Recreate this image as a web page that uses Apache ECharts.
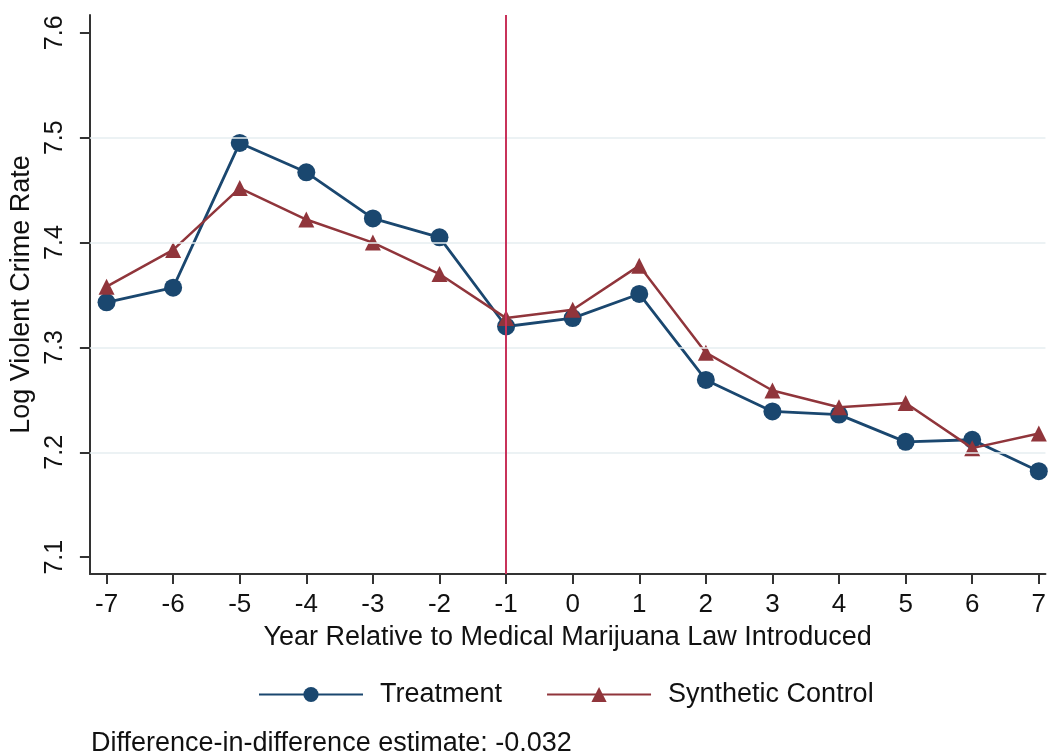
<!DOCTYPE html>
<html>
<head>
<meta charset="utf-8">
<script src="https://cdn.jsdelivr.net/npm/echarts@6/dist/echarts.min.js"></script>
<style>
  html, body { margin: 0; padding: 0; background: #fff; }
  #chart { width: 1049px; height: 756px; }
</style>
</head>
<body>
<div id="chart"></div>
<script>
// years relative to law
var years = [-7, -6, -5, -4, -3, -2, -1, 0, 1, 2, 3, 4, 5, 6, 7]
var treatment = [7.343, 7.357, 7.495, 7.467, 7.423, 7.405, 7.320, 7.328, 7.351, 7.269, 7.239, 7.236, 7.210, 7.212, 7.182]
var synthetic = [7.358, 7.393, 7.452, 7.422, 7.400, 7.370, 7.328, 7.336, 7.378, 7.295, 7.259, 7.243, 7.247, 7.204, 7.218]
var xTicks = [-7, -6, -5, -4, -3, -2, -1, 0, 1, 2, 3, 4, 5, 6, 7]
var yTicks = [7.1, 7.2, 7.3, 7.4, 7.5, 7.6]
var gridValues = [7.2, 7.3, 7.4, 7.5]
var lawYear = -1
var note = 'Difference-in-difference estimate: -0.032'

var font = '"Liberation Sans", Arial, Helvetica, sans-serif'
var navy = '#1a476f'
var maroon = '#90353b'

function pairs(ys) {
  return years.map(function (x, i) { return [x, ys[i]] })
}

var chart = echarts.init(document.getElementById('chart'))
chart.setOption({
  animation: false,
  backgroundColor: '#fff',
  textStyle: { fontFamily: font },
  grid: { left: 87, right: 0, top: 15, bottom: 182 },
  xAxis: {
    type: 'value',
    min: -7.25,
    max: 7.1,
    name: 'Year Relative to Medical Marijuana Law Introduced',
    nameLocation: 'middle',
    nameGap: 50,
    nameTextStyle: { fontSize: 27, color: '#111', fontFamily: font },
    axisLine: { onZero: false, lineStyle: { color: '#333', width: 2 } },
    axisTick: { customValues: xTicks, length: 10, lineStyle: { color: '#333', width: 2 } },
    axisLabel: { customValues: xTicks, margin: 18, fontSize: 26, color: '#111', fontFamily: font },
    splitLine: { show: false }
  },
  yAxis: {
    type: 'value',
    min: 7.084,
    max: 7.617,
    name: 'Log Violent Crime Rate',
    nameLocation: 'middle',
    nameGap: 51,
    nameTextStyle: { fontSize: 27, color: '#111', fontFamily: font },
    axisLine: { show: true, onZero: false, lineStyle: { color: '#333', width: 2 } },
    axisTick: { show: true, customValues: yTicks, length: 10, lineStyle: { color: '#333', width: 2 } },
    axisLabel: {
      customValues: yTicks,
      rotate: 90,
      margin: 22,
      fontSize: 25,
      color: '#111',
      fontFamily: font,
      formatter: function (v) { return v.toFixed(1) }
    },
    splitLine: { show: false }
  },
  legend: {
    left: 253,
    top: 676,
    itemWidth: 104,
    itemHeight: 19,
    itemGap: 44,
    textStyle: { fontSize: 27, color: '#111', fontFamily: font, padding: [0, 0, 0, 12] },
    data: ['Treatment', 'Synthetic Control']
  },
  graphic: [{
    type: 'text',
    left: 91,
    top: 730,
    style: { text: note, fontSize: 27, fill: '#111', fontFamily: font }
  }],
  series: [
    {
      // light gridlines
      type: 'line',
      data: [],
      z: 1,
      silent: true,
      markLine: {
        silent: true,
        symbol: 'none',
        label: { show: false },
        lineStyle: { color: '#e6eef1', width: 1.5, type: 'solid' },
        data: gridValues.map(function (v) { return { yAxis: v } })
      }
    },
    {
      name: 'Treatment',
      type: 'line',
      data: pairs(treatment),
      symbol: 'circle',
      symbolSize: 18,
      itemStyle: { color: navy },
      lineStyle: { color: navy, width: 2.8 },
      z: 3
    },
    {
      name: 'Synthetic Control',
      type: 'line',
      data: pairs(synthetic),
      symbol: 'triangle',
      symbolSize: 16,
      itemStyle: { color: maroon },
      lineStyle: { color: maroon, width: 2.5 },
      z: 4
    },
    {
      // vertical line at law introduction
      type: 'line',
      data: [],
      z: 6,
      silent: true,
      markLine: {
        silent: true,
        symbol: 'none',
        label: { show: false },
        lineStyle: { color: '#c8325a', width: 2, type: 'solid' },
        data: [{ xAxis: lawYear }]
      }
    }
  ]
})
</script>
</body>
</html>
